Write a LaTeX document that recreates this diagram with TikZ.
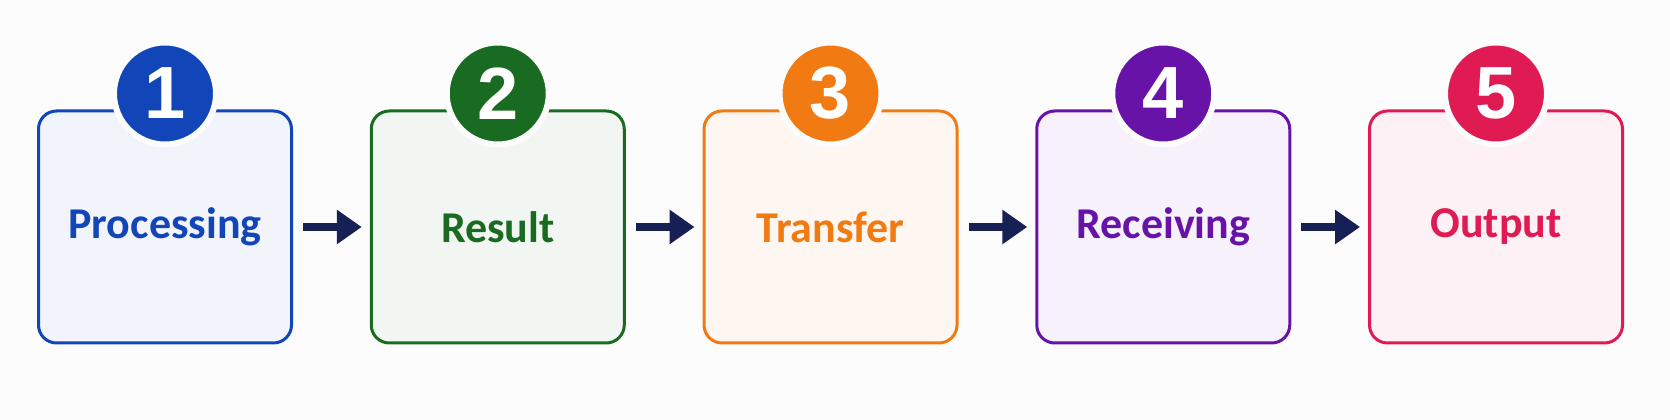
\documentclass[tikz,border=0pt]{standalone}
\usepackage{fontspec}
\setmainfont{Carlito}
\newfontfamily\digitfont{Liberation Sans}
\usetikzlibrary{arrows.meta}

\definecolor{pagebg}{HTML}{FCFCFD}
\definecolor{arrowc}{HTML}{162054}
\definecolor{stepblue}{HTML}{1246B8}
\definecolor{stepgreen}{HTML}{1A6B22}
\definecolor{steporange}{HTML}{F27A12}
\definecolor{steppurple}{HTML}{6813A8}
\definecolor{stepred}{HTML}{E01A52}

\tikzset{
  stepbox/.style={draw=#1, fill=#1!6, line width=3pt, rounded corners=18pt,
    minimum width=253pt, minimum height=232pt, inner sep=0pt, text=#1,
    font=\fontsize{44}{50}\selectfont\bfseries},
  badge/.style={circle, fill=#1, draw=pagebg, line width=6pt, minimum size=102pt,
    inner sep=0pt, text=white, font=\digitfont\fontsize{74}{80}\selectfont\bfseries},
  flow/.style={draw=arrowc, line width=8pt, -{Triangle[length=25pt, width=33pt]},
    shorten <=10pt, shorten >=8pt}
}

\begin{document}
\begin{tikzpicture}[x=1pt, y=1pt]
    \fill[pagebg] (0,0) rectangle (1670,420);
    \useasboundingbox (0,0) rectangle (1670,420);
    % steps
    \foreach \i/\c/\t in {1/stepblue/Processing, 2/stepgreen/Result, 3/steporange/Transfer,
        4/steppurple/Receiving, 5/stepred/Output}
    {
        \node[stepbox=\c] (box\i) at ({165+332.75*(\i-1)}, 193) {\t};
        \node[badge=\c, yshift=16pt] (num\i) at (box\i.north) {\i};
    }
    % arrows between steps
    \foreach \i/\j in {1/2, 2/3, 3/4, 4/5}
        \draw[flow] (box\i.east) -- (box\j.west);
\end{tikzpicture}
\end{document}
